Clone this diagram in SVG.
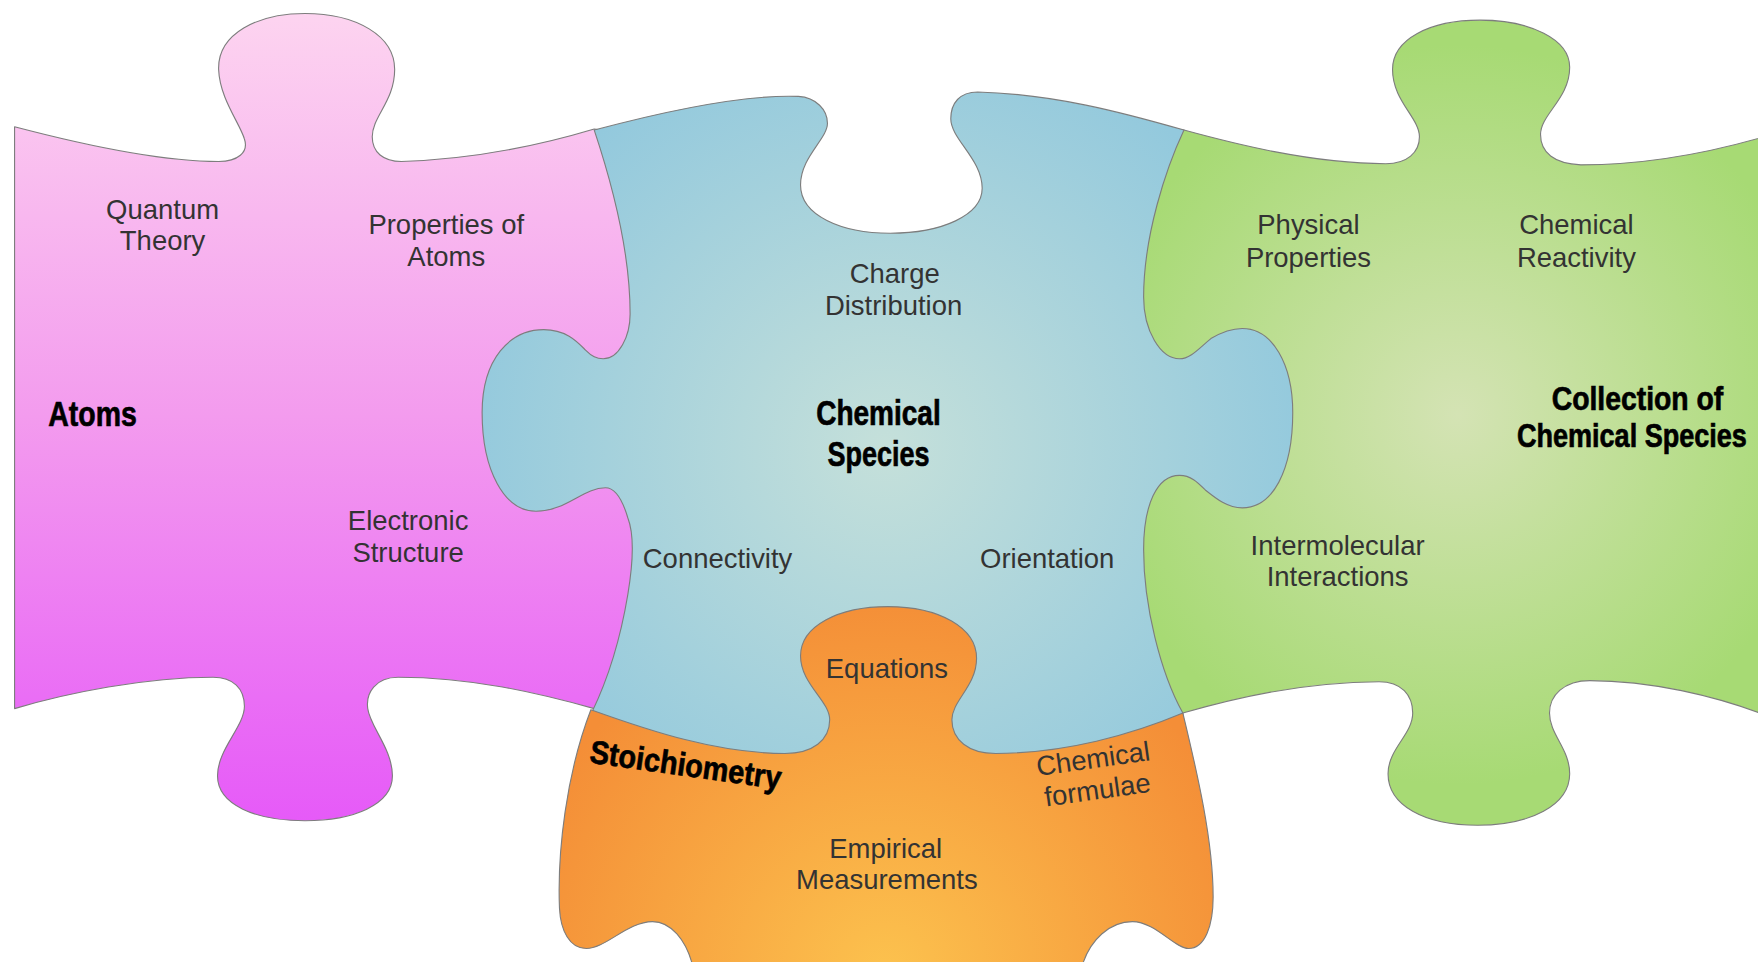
<svg xmlns="http://www.w3.org/2000/svg" width="1758" height="962" viewBox="0 0 1758 962">
<defs>
<linearGradient id="gPink" gradientUnits="userSpaceOnUse" x1="0" y1="12" x2="0" y2="732">
<stop offset="0" stop-color="#fdd4f0"/><stop offset="0.5" stop-color="#f39bee"/><stop offset="1" stop-color="#e65af8"/>
</linearGradient>
<radialGradient id="gBlue" gradientUnits="userSpaceOnUse" cx="790" cy="400" r="380">
<stop offset="0" stop-color="#c5e0da"/><stop offset="1" stop-color="#93c9dd"/>
</radialGradient>
<radialGradient id="gGreen" gradientUnits="userSpaceOnUse" cx="1300" cy="370" r="330">
<stop offset="0" stop-color="#d4e3b4"/><stop offset="1" stop-color="#a7da74"/>
</radialGradient>
<radialGradient id="gOrange" gradientUnits="userSpaceOnUse" cx="790" cy="870" r="340">
<stop offset="0" stop-color="#fcc24e"/><stop offset="1" stop-color="#f48e37"/>
</radialGradient>
<style>
.piece{stroke:#7d7d7d;stroke-width:1;stroke-linejoin:round}
.lbl{font-family:"Liberation Sans",Arial,Helvetica,sans-serif;font-size:24.5px;fill:#333;text-anchor:middle}
.ttl{font-family:"Liberation Sans Narrow","Liberation Sans",Arial,sans-serif;font-weight:bold;fill:#000;stroke:#000;stroke-width:0.6px}
</style>
</defs>
<g transform="scale(1.1212)">
<g id="atoms">
<path class="piece" fill="url(#gPink)" d="M13,113 C70,128 140,144 195,144 C212,144 222,136 218,124 C214,110 196,88 195,62 C194,30 230,12 272,12 C318,12 352,32 352,62 C352,90 332,104 332,122 C332,136 342,144 358,144 C420,142 480,130 530,115 L600,125 L600,625 L530,632 C480,618 420,604 355,604 C335,604 326,618 328,632 C330,648 350,668 350,692 C350,718 315,732 272,732 C228,732 194,718 194,692 C194,668 218,648 218,630 C218,614 208,604 190,604 C130,604 60,618 13,632 Z"/>
<text class="lbl" x="145" y="195">Quantum</text>
<text class="lbl" x="145" y="223">Theory</text>
<text class="lbl" x="398" y="209">Properties of</text>
<text class="lbl" x="398" y="237">Atoms</text>
<text class="lbl" x="364" y="473">Electronic</text>
<text class="lbl" x="364" y="501">Structure</text>
<text class="ttl" x="43" y="380" font-size="31" textLength="79" lengthAdjust="spacingAndGlyphs">Atoms</text>
</g>
<g id="collection">
<path class="piece" fill="url(#gGreen)" d="M1056,116 C1100,128 1170,146 1236,146 C1255,146 1266,136 1266,122 C1266,105 1242,90 1242,62 C1242,35 1275,18 1320,18 C1365,18 1400,35 1400,60 C1400,88 1374,102 1374,120 C1374,136 1386,146 1410,147 C1470,147 1530,135 1580,120 L1580,640 C1530,620 1470,607 1418,607 C1395,607 1382,620 1382,636 C1382,655 1400,668 1400,690 C1400,718 1365,736 1318,736 C1270,736 1238,718 1238,690 C1238,668 1260,655 1260,636 C1260,620 1250,608 1230,608 C1170,608 1110,620 1055,636 L1000,640 L1000,116 Z"/>
<text class="lbl" x="1167" y="209">Physical</text>
<text class="lbl" x="1167" y="238">Properties</text>
<text class="lbl" x="1406" y="209">Chemical</text>
<text class="lbl" x="1406" y="238">Reactivity</text>
<text class="lbl" x="1193" y="495">Intermolecular</text>
<text class="lbl" x="1193" y="523">Interactions</text>
<text class="ttl" x="1537" y="366" font-size="29" text-anchor="end" textLength="153" lengthAdjust="spacingAndGlyphs">Collection of</text>
<text class="ttl" x="1558" y="399" font-size="29" text-anchor="end" textLength="205" lengthAdjust="spacingAndGlyphs">Chemical Species</text>
</g>
<g id="chemical-species">
<path class="piece" fill="url(#gBlue)" d="M530,116 C590,100 660,84 712,86 C728,87 738,98 738,110 C738,124 714,140 714,165 C714,192 750,208 794,208 C840,208 876,192 876,168 C876,142 848,124 848,106 C848,92 856,82 872,82 C940,84 1000,100 1056,116 C1040,150 1020,210 1020,265 C1020,295 1035,320 1052,320 C1062,320 1070,310 1080,302 C1090,296 1098,293 1108,293 C1135,293 1153,325 1153,368 C1153,420 1135,453 1108,453 C1095,453 1085,445 1075,437 C1068,430 1062,424 1052,424 C1032,424 1020,450 1020,490 C1020,540 1035,600 1055,636 L1055,700 L528,700 L528,635 C545,600 555,560 560,530 C565,500 565,475 560,462 C555,445 548,435 540,435 C520,435 505,456 478,456 C450,456 430,420 430,368 C430,320 455,294 485,294 C505,294 515,305 522,312 C528,318 532,320 538,320 C552,320 562,300 562,280 C562,230 548,170 530,116 Z"/>
<text class="lbl" x="798" y="252">Charge</text>
<text class="lbl" x="797" y="281">Distribution</text>
<text class="lbl" x="640" y="507">Connectivity</text>
<text class="lbl" x="934" y="507">Orientation</text>
<text class="ttl" x="728" y="379" font-size="31" textLength="111" lengthAdjust="spacingAndGlyphs">Chemical</text>
<text class="ttl" x="738" y="416" font-size="31" textLength="91" lengthAdjust="spacingAndGlyphs">Species</text>
</g>
<g id="stoichiometry">
<path class="piece" fill="url(#gOrange)" d="M527,633 C580,652 640,672 700,672 C725,672 740,660 740,642 C740,625 714,610 714,585 C714,558 748,541 792,541 C838,541 871,560 871,587 C871,612 849,625 849,642 C849,660 864,672 888,672 C950,672 1010,655 1055,636 C1068,690 1082,750 1082,800 C1082,825 1075,846 1060,846 C1048,846 1030,822 1010,822 C990,822 972,838 965,862 L965,870 L620,870 L618,862 C612,838 598,822 582,822 C560,822 540,846 523,846 C508,846 500,830 499,810 C497,760 505,690 527,633 Z"/>
<text class="lbl" x="791" y="605">Equations</text>
<text class="lbl" x="790" y="765">Empirical</text>
<text class="lbl" x="791" y="793">Measurements</text>
<g transform="translate(976,685) rotate(-8)">
<text class="lbl" x="0" y="0">Chemical</text>
<text class="lbl" x="0" y="28">formulae</text>
</g>
<text class="ttl" transform="rotate(8 525 680)" x="525" y="680" font-size="29" textLength="172" lengthAdjust="spacingAndGlyphs">Stoichiometry</text>
</g>
<g id="connectors"/>
</g>
</svg>
